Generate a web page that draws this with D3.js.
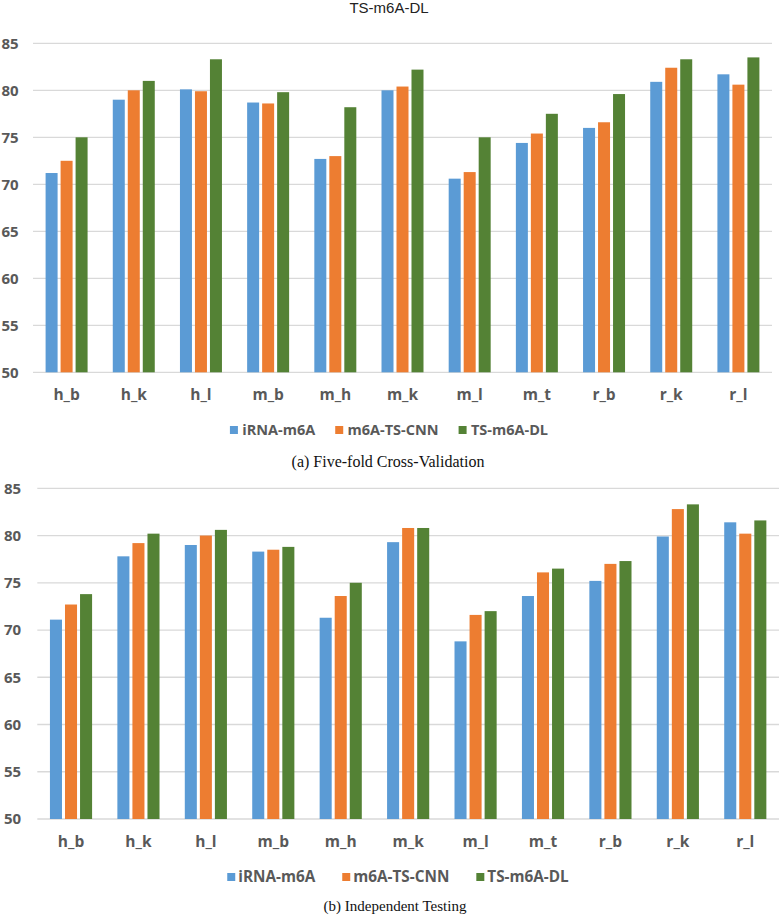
<!DOCTYPE html>
<html>
<head>
<meta charset="utf-8">
<script src="https://cdn.jsdelivr.net/npm/d3@7/dist/d3.min.js"></script>
<style>
  html, body { margin: 0; padding: 0; background: #fff; }
  svg { display: block; }
</style>
</head>
<body>
<svg id="chart" width="781" height="917"></svg>
<script>
// ---- data ----
const categories = ["h_b","h_k","h_l","m_b","m_h","m_k","m_l","m_t","r_b","r_k","r_l"];
const seriesNames = ["iRNA-m6A","m6A-TS-CNN","TS-m6A-DL"];
const seriesColors = ["#5B9BD5","#ED7D31","#548235"];
const yTicks = [50,55,60,65,70,75,80,85];

// (a) Five-fold Cross-Validation
const cvIRNA  = [71.2, 79.0, 80.1, 78.7, 72.7, 80.0, 70.6, 74.4, 76.0, 80.9, 81.7];
const cvTSCNN = [72.5, 80.0, 79.9, 78.6, 73.0, 80.4, 71.3, 75.4, 76.6, 82.4, 80.6];
const cvTSDL  = [75.0, 81.0, 83.3, 79.8, 78.2, 82.2, 75.0, 77.5, 79.6, 83.3, 83.5];

// (b) Independent Testing
const itIRNA  = [71.1, 77.8, 79.0, 78.3, 71.3, 79.3, 68.8, 73.6, 75.2, 79.9, 81.4];
const itTSCNN = [72.7, 79.2, 80.0, 78.5, 73.6, 80.8, 71.6, 76.1, 77.0, 82.8, 80.2];
const itTSDL  = [73.8, 80.2, 80.6, 78.8, 75.0, 80.8, 72.0, 76.5, 77.3, 83.3, 81.6];

const mainTitle = "TS-m6A-DL";
const captionA = "(a) Five-fold Cross-Validation";
const captionB = "(b) Independent Testing";

// ---- drawing ----
const svg = d3.select("#chart");
const axisFont = "'Open Sans', 'DejaVu Sans', sans-serif";
const textGrey = "#595959";

svg.append("text")
  .attr("x", 389).attr("y", 12.5)
  .attr("text-anchor", "middle")
  .style("font-family", "'Liberation Sans', Arial, sans-serif")
  .style("font-size", "15px")
  .attr("fill", "#222")
  .text(mainTitle);

function drawPanel(cfg) {
  const data = categories.map((c, i) => ({cat: c, vals: cfg.series.map(s => s[i])}));
  const x0 = d3.scaleBand().domain(categories)
    .range([cfg.left, cfg.right]).paddingInner(0.375).paddingOuter(0.1875);
  const x1 = d3.scaleBand().domain(d3.range(seriesNames.length))
    .range([0, x0.bandwidth()]).paddingInner(0.2).paddingOuter(0);
  const y = d3.scaleLinear().domain([50, 85]).range([cfg.bottom, cfg.top]);

  const g = svg.append("g");

  // gridlines
  g.selectAll("line.grid").data(yTicks).join("line")
    .attr("class", "grid")
    .attr("x1", cfg.left).attr("x2", cfg.right)
    .attr("y1", d => y(d)).attr("y2", d => y(d))
    .attr("stroke", "#d9d9d9").attr("stroke-width", 1.3);

  // y axis labels
  const yAxis = d3.axisLeft(y).tickValues(yTicks).tickSize(0).tickPadding(0);
  const ya = g.append("g").attr("transform", `translate(${cfg.yLabelX},0)`).call(yAxis);
  ya.select(".domain").remove();
  ya.selectAll("text")
    .attr("text-anchor", "start").attr("x", 0)
    .style("font-family", axisFont).style("font-weight", "bold")
    .style("font-size", "15px").attr("fill", textGrey);

  // bars
  const groups = g.selectAll("g.cat").data(data).join("g")
    .attr("class", "cat")
    .attr("transform", d => `translate(${x0(d.cat)},0)`);
  groups.selectAll("rect").data(d => d.vals).join("rect")
    .attr("x", (d, i) => x1(i))
    .attr("width", x1.bandwidth())
    .attr("y", d => y(d))
    .attr("height", d => y(50) - y(d))
    .attr("fill", (d, i) => seriesColors[i]);

  // x axis labels
  const xAxis = d3.axisBottom(x0).tickSize(0).tickPadding(0);
  const xa = g.append("g").attr("transform", `translate(0,${cfg.xLabelY})`).call(xAxis);
  xa.select(".domain").remove();
  xa.selectAll("text")
    .attr("dy", "0.35em").attr("y", 0)
    .style("font-family", axisFont).style("font-weight", "bold")
    .style("font-size", "15.5px").attr("fill", textGrey);

  // legend
  const lg = g.append("g");
  const items = lg.selectAll("g").data(seriesNames).join("g");
  items.append("rect").attr("width", 8).attr("height", 8).attr("y", -4)
    .attr("fill", (d, i) => seriesColors[i]);
  items.append("text").attr("x", cfg.legTextOff).attr("dy", "0.35em")
    .style("font-family", axisFont).style("font-weight", "bold")
    .style("font-size", cfg.legFont + "px").attr("fill", textGrey)
    .text(d => d);
  let cx = 0;
  items.each(function() {
    const w = d3.select(this).select("text").node().getComputedTextLength();
    d3.select(this).attr("transform", `translate(${cx},0)`);
    cx += cfg.legTextOff + w + cfg.legGap;
  });
  const total = cx - cfg.legGap;
  lg.attr("transform", `translate(${cfg.legCenter - total / 2},${cfg.legY})`);

  // caption
  g.append("text")
    .attr("x", cfg.capX).attr("y", cfg.capY).attr("dy", "0.35em")
    .attr("text-anchor", "middle")
    .style("font-family", "'Liberation Serif', 'Times New Roman', serif")
    .style("font-size", cfg.capFont + "px").attr("fill", "#111")
    .text(cfg.caption);
}

drawPanel({
  series: [cvIRNA, cvTSCNN, cvTSDL],
  left: 33, right: 772, top: 43.3, bottom: 372.3,
  yLabelX: 1.5, xLabelY: 395,
  legY: 430, legCenter: 389, legFont: 14.5, legTextOff: 12.3, legGap: 20,
  caption: captionA, capX: 388, capY: 461.5, capFont: 16
});

drawPanel({
  series: [itIRNA, itTSCNN, itTSDL],
  left: 37.3, right: 779, top: 488.3, bottom: 819,
  yLabelX: 4, xLabelY: 841.7,
  legY: 877, legCenter: 398, legFont: 15.3, legTextOff: 11, legGap: 27,
  caption: captionB, capX: 395, capY: 905.5, capFont: 15
});
</script>
</body>
</html>
